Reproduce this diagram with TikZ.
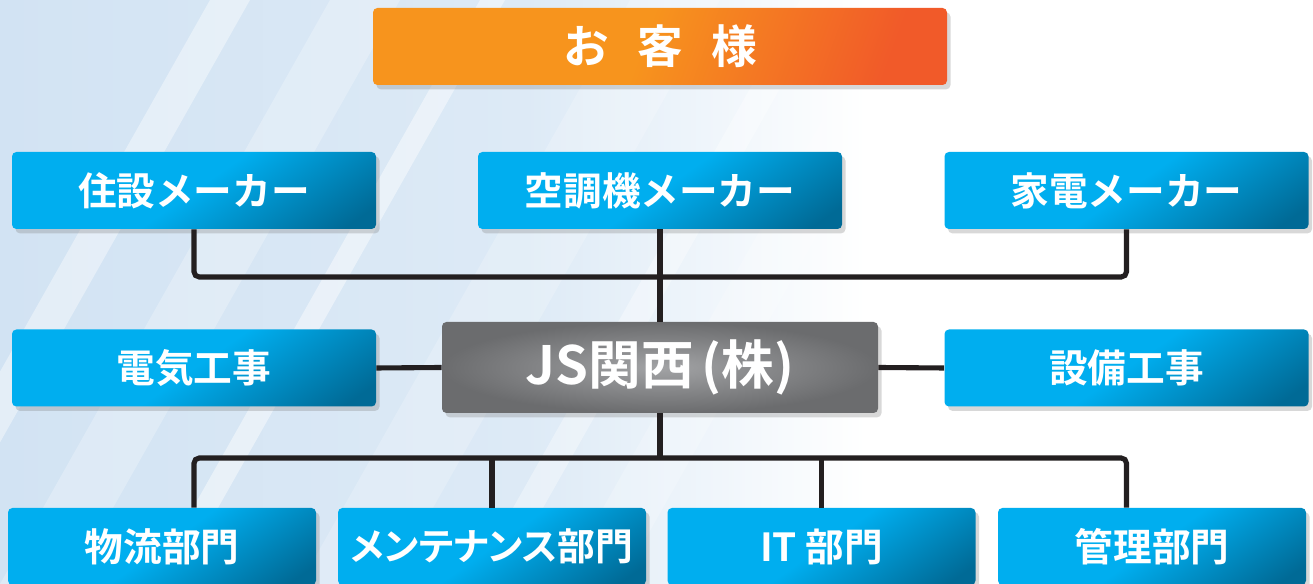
\documentclass[tikz,border=0pt]{standalone}
\usepackage{fontspec}
\newfontfamily\jpfont{Noto Sans CJK JP}[BoldFont={Noto Sans CJK JP Bold}]
\newfontfamily\jppalt{Noto Sans CJK JP}[BoldFont={Noto Sans CJK JP Bold},RawFeature=+palt]
\usetikzlibrary{shadows}

\definecolor{cyanA}{HTML}{00AEEF}
\definecolor{cyanB}{HTML}{006A96}
\definecolor{orA}{HTML}{F7941D}
\definecolor{orB}{HTML}{F15A29}
\definecolor{grayA}{HTML}{A2A3A5}
\definecolor{grayB}{HTML}{6B6C6E}
\definecolor{linkc}{HTML}{231F20}
\definecolor{bgA}{HTML}{D2E3F3}
\definecolor{bgB}{HTML}{DDEAF6}

\pgfdeclarehorizontalshading{bluebox}{100bp}{color(0bp)=(cyanA); color(25bp)=(cyanA); color(50bp)=(cyanA); color(80bp)=(cyanB); color(100bp)=(cyanB)}
\pgfdeclarehorizontalshading{orangebox}{100bp}{color(0bp)=(orA); color(25bp)=(orA); color(48bp)=(orA); color(75bp)=(orB); color(100bp)=(orB)}
\pgfdeclarehorizontalshading{bgshade}{100bp}{color(0bp)=(bgA); color(25bp)=(bgA); color(45bp)=(bgB); color(58bp)=(white); color(100bp)=(white)}

\def\px{0.02cm}

\tikzset{
	box/.style={rounded corners=2.5pt, text=white, minimum height=77*\px,
		font=\jpfont\bfseries\fontsize{22}{22}\selectfont,
		drop shadow={opacity=.3, shadow xshift=2pt, shadow yshift=-2.5pt}},
	maker/.style={box, shading=bluebox, shading angle=-55, minimum width=364*\px},
	dept/.style={maker, minimum width=308*\px},
	guest/.style={box, shading=orangebox, shading angle=-20, minimum width=574*\px,
		font=\jpfont\bfseries\fontsize{26}{26}\selectfont},
	head/.style={box, inner color=grayA, outer color=grayB, minimum width=436*\px,
		minimum height=91*\px, font=\jpfont\bfseries\fontsize{30}{30}\selectfont},
	link/.style={draw=linkc, line width=2.9pt, rounded corners=3pt}
}

\begin{document}
\begin{tikzpicture}[x=0.02cm,y=0.02cm]
	\useasboundingbox (0,0) rectangle (1313,584);
	% background
	\begin{scope}
		\clip (0,0) rectangle (1313,584);
		\shade[shading=bgshade] (0,0) rectangle (1313,584);
		\foreach \a/\w/\o in {-120/40/.4, 0/70/.25, 150/25/.45, 300/90/.2, 470/30/.35, 560/60/.2}
			\fill[white,opacity=\o] (\a,0) -- ++(\w,0) -- ++(330,584) -- ++(-\w,0) -- cycle;
	\end{scope}
	
	\coordinate (topbar) at (0,307);
	\coordinate (botbar) at (0,126);
	
	\node[guest] (okyaku) at (660,537.5) {お\hspace{.62em}客\hspace{.62em}様};
	
	\node[maker] (jusetsu) at (194,393.5) {住設メーカー};
	\node[maker] (kuchoki) at (660,393.5) {空調機メーカー};
	\node[maker] (kaden) at (1126.5,393.5) {家電メーカー};
	
	\node[maker] (denki) at (194,216) {電気工事};
	\node[head] (js) at (660,216.5) {JS関西\hspace{.15em}(株)};
	\node[maker] (setsubi) at (1126.5,216) {設備工事};
	
	\node[dept] (butsuryu) at (162,37.5) {物流部門};
	\node[dept] (maint) at (492,37.5) {\jppalt\fontsize{21.5}{21.5}\selectfont メンテナンス部門};
	\node[dept] (it) at (821.5,37.5) {IT 部門};
	\node[dept] (kanri) at (1152,37.5) {管理部門};
	
	% connectors
	\draw[link] (jusetsu.south) |- (kuchoki.south |- topbar) -| (kaden.south);
	\draw[link] (kuchoki.south) -- (js.north);
	\draw[link] (denki.east) -- (js.west);
	\draw[link] (js.east) -- (setsubi.west);
	\draw[link] (js.south) -- (js.south |- botbar);
	\draw[link] (butsuryu.north -| jusetsu.south) |- (js.south |- botbar) -| (kanri.north -| kaden.south);
	\draw[link] (maint.north) -- (maint.north |- botbar);
	\draw[link] (it.north) -- (it.north |- botbar);
\end{tikzpicture}
\end{document}
